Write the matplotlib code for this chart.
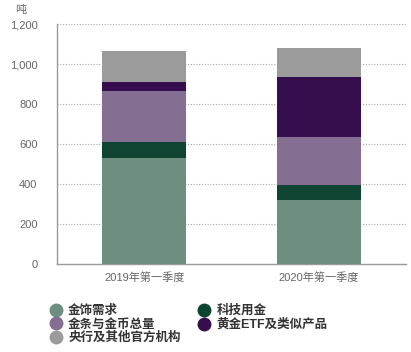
import matplotlib
matplotlib.use("Agg")
from matplotlib import pyplot as plt
from matplotlib.lines import Line2D

plt.rcParams["font.family"] = ["Liberation Sans", "Noto Sans CJK SC", "DejaVu Sans"]

quarters = ["2019年第一季度", "2020年第一季度"]
series_names = ["金饰需求", "科技用金", "金条与金币总量", "黄金ETF及类似产品", "央行及其他官方机构"]
jewellery = [531, 320]
technology = [79, 75]
bar_coin = [256, 240]
etf = [45, 300]
central_banks = [154, 145]
colors = ["#6e8f80", "#0f4432", "#846e92", "#360e4d", "#9b9b9b"]

series = [jewellery, technology, bar_coin, etf, central_banks]

fig = plt.figure(figsize=(4.11, 3.52), dpi=100)
ax = fig.add_axes([0.1387, 0.25, 0.8491, 0.6818])

x = list(range(len(quarters)))
bottom = [0, 0]
for vals, col in zip(series, colors):
    ax.bar(x, vals, width=0.48, bottom=bottom, color=col, zorder=3)
    bottom = [b + v for b, v in zip(bottom, vals)]

ax.set_xlim(-0.5, 1.5)
ax.set_ylim(0, 1200)
ax.set_yticks(range(0, 1201, 200))
ax.set_yticklabels([f"{v:,}" for v in range(0, 1201, 200)])
ax.set_xticks(x)
ax.set_xticklabels(quarters)
ax.tick_params(axis="both", length=0, labelsize=8, colors="#666666")
ax.tick_params(axis="y", pad=14)
ax.tick_params(axis="x", pad=6)

ax.yaxis.grid(True, linestyle=(0, (1, 1.5)), color="#aaaaaa", linewidth=0.8, zorder=0)
for s in ["top", "right"]:
    ax.spines[s].set_visible(False)
for s in ["left", "bottom"]:
    ax.spines[s].set_color("#999999")
    ax.spines[s].set_linewidth(1)

fig.text(0.036, 0.972, "吨", fontsize=8, color="#666666", va="center")

handles = [Line2D([], [], marker="o", linestyle="", markersize=9, color=c) for c in colors]
order = [0, 2, 4, 1, 3]
leg = fig.legend([handles[i] for i in order], [series_names[i] for i in order],
                 ncol=2, loc="upper left", bbox_to_anchor=(0.105, 0.148),
                 frameon=False, fontsize=9, handletextpad=0.4, columnspacing=1.3,
                 labelspacing=0.12, borderaxespad=0, handlelength=1.2)
for t in leg.get_texts():
    t.set_color("#333333")
    t.set_fontweight("bold")

fig.savefig("out.png", dpi=100)
